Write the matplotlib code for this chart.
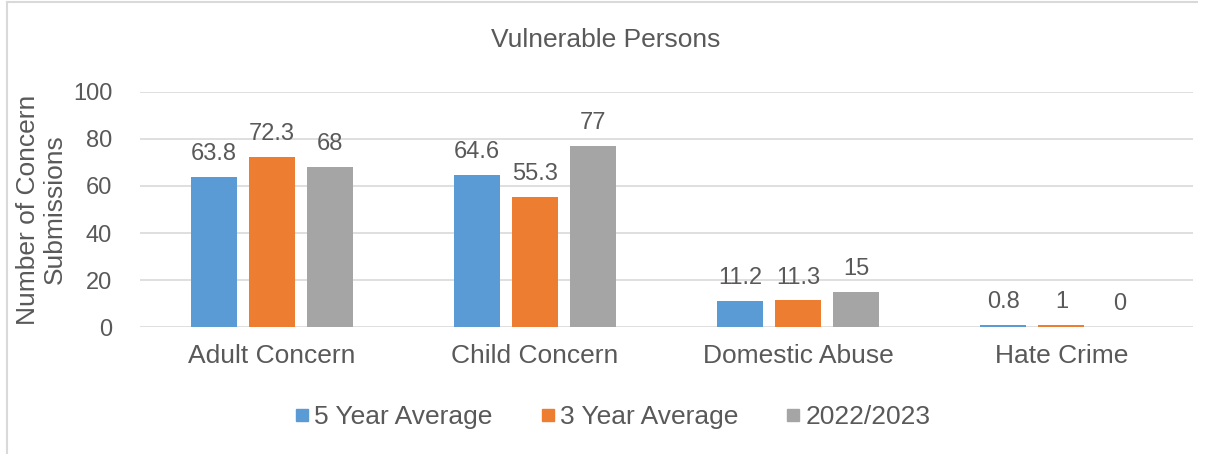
import matplotlib
matplotlib.use("Agg")
import matplotlib.pyplot as plt
import numpy as np
from matplotlib.lines import Line2D

plt.rcParams["font.family"] = ["Liberation Sans", "DejaVu Sans"]

categories = ["Adult Concern", "Child Concern", "Domestic Abuse", "Hate Crime"]
series_names = ["5 Year Average", "3 Year Average", "2022/2023"]
five_year = [63.8, 64.6, 11.2, 0.8]
three_year = [72.3, 55.3, 11.3, 1]
current = [68, 77, 15, 0]

COLORS = ["#5b9bd5", "#ed7d31", "#a5a5a5"]
TXT = "#595959"

fig = plt.figure(figsize=(12.05, 4.54), dpi=100)
ax = fig.add_axes([0.1162, 0.2797, 0.990 - 0.1162, 0.7974 - 0.2797])

x = np.arange(len(categories))
width = 0.175
step = 0.22
for j, (vals, col) in enumerate(zip([five_year, three_year, current], COLORS)):
    xpos = x + (j - 1) * step
    ax.bar(xpos, vals, width=width, color=col, zorder=2)
    for xp, v in zip(xpos, vals):
        ax.text(xp, v + 5, f"{v:g}", ha="center", va="bottom", fontsize=17, color=TXT)

ax.set_xlim(-0.5, 3.5)
ax.set_ylim(0, 100)
ax.set_yticks(range(0, 101, 20))
ax.yaxis.grid(True, color="#d9d9d9", lw=1.2, zorder=0)
ax.set_axisbelow(True)
for s in ax.spines.values():
    s.set_visible(False)
ax.tick_params(axis="both", length=0, colors=TXT)
ax.tick_params(axis="y", pad=20, labelsize=17)
ax.tick_params(axis="x", pad=12)
ax.set_xticks(x)
ax.set_xticklabels(categories, fontsize=19, color=TXT)
ax.set_ylabel("Number of Concern\nSubmissions", fontsize=19, color=TXT, labelpad=4,
              linespacing=1.15)

fig.text(0.503, 0.912, "Vulnerable Persons", ha="center", va="center",
         fontsize=19, color=TXT)

handles = [Line2D([0], [0], marker="s", ls="none", color=c, markersize=9) for c in COLORS]
fig.legend(handles, series_names, loc="center", bbox_to_anchor=(0.507, 0.082),
           ncol=3, frameon=False, fontsize=19, labelcolor=TXT, handletextpad=0.05,
           columnspacing=1.7, handlelength=0.8)

# chart border (left and top edges, as in the original export)
fig.add_artist(Line2D([7 / 1205, 7 / 1205], [0, 1 - 2 / 454], color="#d9d9d9", lw=1.5,
                      transform=fig.transFigure))
fig.add_artist(Line2D([7 / 1205, 1197 / 1205], [1 - 2 / 454, 1 - 2 / 454], color="#d9d9d9",
                      lw=1.5, transform=fig.transFigure))

fig.savefig("out.png", dpi=100)
